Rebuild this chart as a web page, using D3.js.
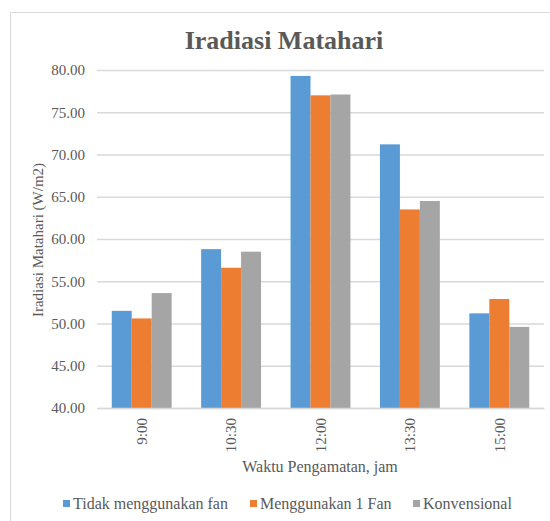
<!DOCTYPE html>
<html>
<head>
<meta charset="utf-8">
<script src="https://cdn.jsdelivr.net/npm/d3@7"></script>
<style>
  body { margin: 0; background: #fff; }
  svg text { font-family: "Liberation Serif", "DejaVu Serif", serif !important; fill: #595959; }
</style>
</head>
<body>
<div id="chart-area"></div>
<script>
// data
const categories = ["9:00", "10:30", "12:00", "13:30", "15:00"];
const seriesNames = ["Tidak menggunakan fan", "Menggunakan 1 Fan", "Konvensional"];
const tanpaFan = [51.5, 58.8, 79.3, 71.2, 51.2];
const satuFan = [50.6, 56.6, 77.0, 63.5, 52.9];
const konvensional = [53.6, 58.5, 77.1, 64.5, 49.6];
const yTicks = [40, 45, 50, 55, 60, 65, 70, 75, 80];

var colours = ["#5b9bd5", "#ed7d31", "#a5a5a5"];
const width = 550;
const height = 521;
const plot = { left: 97, right: 544, top: 70, bottom: 408 };
const serif = "'Liberation Serif', serif";

const series = [tanpaFan, satuFan, konvensional];

const svg = d3.select("#chart-area")
    .append("svg")
    .attr("width", width)
    .attr("height", height)
    .attr("font-family", serif);

// chart frame (only top + left edges show in the picture)
svg.append("path")
    .attr("d", "M10.5," + height + "V12.5H" + width)
    .attr("fill", "none")
    .attr("stroke", "#d9d9d9");

const x0 = d3.scaleBand().domain(categories)
    .range([plot.left, plot.right])
    .paddingInner(0.33).paddingOuter(0.165);
const x1 = d3.scaleBand().domain(d3.range(series.length))
    .range([0, x0.bandwidth()]);
const y = d3.scaleLinear().domain([40, 80]).range([plot.bottom, plot.top]);

/** Gridlines */
const leftAxis = d3.axisLeft(y)
    .tickValues(yTicks)
    .tickSize(-(plot.right - plot.left))
    .tickPadding(12)
    .tickFormat(d3.format(".2f"));

const gy = svg.append("g")
    .attr("transform", "translate(" + plot.left + ",0)")
    .call(leftAxis)
    .attr("font-family", serif);
gy.select(".domain").remove();
gy.selectAll("line").attr("stroke", "#d9d9d9").attr("stroke-width", 1.3);
gy.selectAll("text").attr("font-size", "15px").style("fill", "#595959");

/** Bars */
series.forEach((vals, s) => {
    svg.append("g").selectAll("rect")
        .data(vals)
        .enter()
        .append("rect")
        .attr("x", (d, i) => x0(categories[i]) + x1(s))
        .attr("y", d => y(d))
        .attr("width", x1.bandwidth())
        .attr("height", d => y(40) - y(d))
        .attr("fill", colours[s]);
});

/** Category axis */
const bottomAxis = d3.axisBottom(x0).tickSize(0).tickPadding(0);
const gx = svg.append("g")
    .attr("transform", "translate(0," + plot.bottom + ")")
    .call(bottomAxis)
    .attr("font-family", serif);
gx.select(".domain").attr("stroke", "#d9d9d9").attr("stroke-width", 1.3);
gx.selectAll("text")
    .attr("font-size", "15px")
    .attr("text-anchor", "end")
    .attr("dy", "0.35em")
    .attr("y", 0)
    .attr("transform", "translate(0,10) rotate(-90)")
    .style("fill", "#595959");

/** Labeling */
svg.append("text")
    .attr("x", 284)
    .attr("y", 49)
    .attr("text-anchor", "middle")
    .attr("font-size", "26px")
    .attr("font-weight", "bold")
    .text("Iradiasi Matahari");

svg.append("text")
    .attr("transform", "translate(43,240) rotate(-90)")
    .attr("text-anchor", "middle")
    .attr("font-size", "15px")
    .text("Iradiasi Matahari (W/m2)");

svg.append("text")
    .attr("x", 320)
    .attr("y", 472)
    .attr("text-anchor", "middle")
    .attr("font-size", "16px")
    .text("Waktu Pengamatan, jam");

/** Legend */
const legendX = [63, 250, 413];
const legend = svg.append("g").selectAll("g")
    .data(seriesNames)
    .enter()
    .append("g")
    .attr("transform", (d, i) => "translate(" + legendX[i] + ",504)");
legend.append("rect")
    .attr("x", 0).attr("y", -4)
    .attr("width", 7).attr("height", 7)
    .attr("fill", (d, i) => colours[i]);
legend.append("text")
    .attr("x", 10)
    .attr("y", 5)
    .attr("font-size", "16px")
    .text(d => d);
</script>
</body>
</html>
